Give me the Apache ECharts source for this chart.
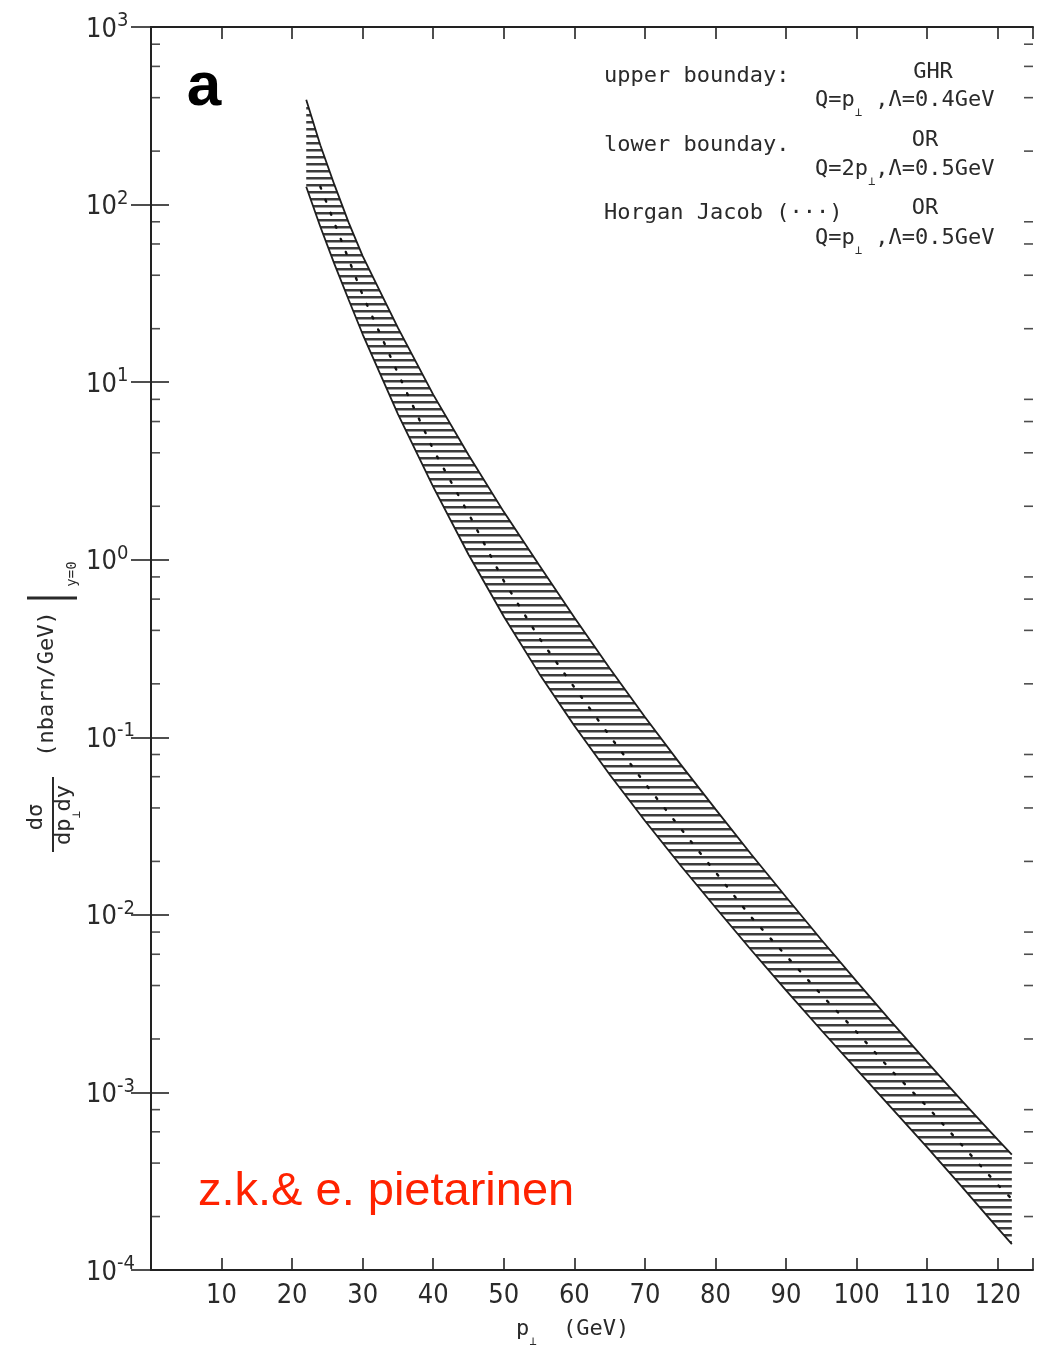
<!DOCTYPE html>
<html>
<head>
<meta charset="utf-8">
<script src="https://cdn.jsdelivr.net/npm/echarts@6/dist/echarts.min.js"></script>
<style>
html,body{margin:0;padding:0;background:#ffffff;}
#c{width:1044px;height:1350px;}
</style>
</head>
<body>
<div id="c"></div>
<script>
// ---------- data ----------
const pT = [22, 24, 26, 28, 30, 35, 40, 45, 50, 55, 60, 65, 70, 75, 80, 85, 90, 95, 100, 105, 110, 115, 120, 122];
const upperBoundary = [389, 216, 129, 79.4, 51.3, 20.2, 8.51, 3.89, 1.86, 0.933, 0.473, 0.245, 0.130, 0.0708, 0.0394, 0.0221, 0.0126, 0.00724, 0.00422, 0.00248, 0.00148, 0.000891, 0.000543, 0.000447];
const lowerBoundary = [126, 75.0, 46.2, 29.2, 18.6, 6.61, 2.57, 1.07, 0.479, 0.229, 0.116, 0.0617, 0.0339, 0.0191, 0.0110, 0.00638, 0.00376, 0.00224, 0.00135, 0.000813, 0.000490, 0.000292, 0.000172, 0.000140];
const pTHorganJacob = [24, 30, 35, 40, 45, 50, 55, 60, 65, 70, 75, 80, 85, 90, 95, 100, 105, 110, 115, 120, 122];
const horganJacob = [126, 30.9, 11.2, 4.17, 1.82, 0.759, 0.363, 0.191, 0.102, 0.0550, 0.0309, 0.0174, 0.00977, 0.00589, 0.00355, 0.00219, 0.00132, 0.000832, 0.000501, 0.000302, 0.000251];

const xTickValues = [10, 20, 30, 40, 50, 60, 70, 80, 90, 100, 110, 120];
const xTickLabels = ['10', '20', '30', '40', '50', '60', '70', '80', '90', '100', '110', '120'];
const yTickExponents = ['-4', '-3', '-2', '-1', '0', '1', '2', '3'];
const yMinorTicks = [2e-4, 4e-4, 6e-4, 8e-4, 2e-3, 4e-3, 6e-3, 8e-3, 2e-2, 4e-2, 6e-2, 8e-2,
  0.2, 0.4, 0.6, 0.8, 2, 4, 6, 8, 20, 40, 60, 80, 200, 400, 600, 800];

const X_MIN = 0, X_MAX = 125, Y_MIN = 1e-4, Y_MAX = 1e3;

// ---------- styling ----------
const INK = '#2a2a2a';
const FONT = "'Liberation Sans Narrow','DejaVu Sans Condensed','DejaVu Sans',sans-serif";
const MONO = "'DejaVu Sans Mono',monospace";

const hatch = document.createElement('canvas');
hatch.width = 8; hatch.height = 7;
const hc = hatch.getContext('2d');
hc.fillStyle = '#3c3c3c';
hc.fillRect(0, 2, 8, 2.5);

const chart = echarts.init(document.getElementById('c'), null, {renderer: 'canvas'});

const axisLineStyle = {color: '#222', width: 2};
const tickStyle = {color: '#222', width: 1.6};

const subRich = {
  b: {fontFamily: MONO, fontSize: 22, color: INK, lineHeight: 30, verticalAlign: 'top'},
  s: {fontFamily: MONO, fontSize: 12, color: INK, lineHeight: 14, verticalAlign: 'bottom'}
};

function legendText(x, y, text, align) {
  return {
    type: 'text', x: x, y: y, silent: true,
    style: {text: text, fontFamily: MONO, fontSize: 22, fill: INK,
      align: align || 'left', verticalAlign: 'middle', rich: subRich}
  };
}

const option = {
  backgroundColor: '#ffffff',
  animation: false,
  grid: {left: 151, right: 11, top: 27, bottom: 80, containLabel: false, outerBoundsMode: 'none'},
  xAxis: [
    {
      type: 'value', position: 'bottom', min: X_MIN, max: X_MAX, interval: 10,
      axisLine: {show: true, lineStyle: axisLineStyle},
      axisTick: {show: true, inside: true, length: 12, lineStyle: tickStyle},
      axisLabel: {
        show: true, margin: 12, fontFamily: FONT, fontSize: 27, color: INK,
        formatter: function (v) { const i = xTickValues.indexOf(v); return i >= 0 ? xTickLabels[i] : ''; }
      },
      splitLine: {show: false}
    },
    {
      type: 'value', position: 'top', min: X_MIN, max: X_MAX, interval: 10,
      axisLine: {show: true, lineStyle: axisLineStyle},
      axisTick: {show: true, inside: true, length: 12, lineStyle: tickStyle},
      axisLabel: {show: false},
      splitLine: {show: false}
    }
  ],
  yAxis: [
    {
      type: 'log', logBase: 10, position: 'left', min: Y_MIN, max: Y_MAX, splitNumber: 7,
      axisLine: {show: true, lineStyle: axisLineStyle},
      axisTick: {show: true, inside: true, length: 18, lineStyle: tickStyle},
      axisLabel: {
        show: true, margin: 65, align: 'left',
        formatter: function (v) {
          const e = Math.round(Math.log10(v));
          return '{b|10}{e|' + yTickExponents[e + 4] + '}';
        },
        rich: {
          b: {fontFamily: FONT, fontSize: 27, color: INK, lineHeight: 32, verticalAlign: 'bottom'},
          e: {fontFamily: FONT, fontSize: 20, color: INK, lineHeight: 14, verticalAlign: 'top'}
        }
      },
      splitLine: {show: false}
    },
    {
      type: 'log', logBase: 10, position: 'right', min: Y_MIN, max: Y_MAX, splitNumber: 7,
      axisLine: {show: true, lineStyle: axisLineStyle},
      axisTick: {show: true, inside: true, length: 20, lineStyle: tickStyle},
      axisLabel: {show: false},
      splitLine: {show: false}
    }
  ],
  series: [
    {
      name: 'band', type: 'custom', coordinateSystem: 'cartesian2d',
      xAxisIndex: 0, yAxisIndex: 0, silent: true, z: 1,
      data: pT.map(function (x, i) { return [x, lowerBoundary[i], upperBoundary[i]]; }),
      encode: {x: 0, y: [1, 2]},
      renderItem: function (params, api) {
        if (params.dataIndex !== 0) return {type: 'group', children: []};
        const top = pT.map(function (x, i) { return api.coord([x, upperBoundary[i]]); });
        const bot = pT.map(function (x, i) { return api.coord([x, lowerBoundary[i]]); }).reverse();
        return {
          type: 'polygon',
          shape: {points: top.concat(bot)},
          style: {fill: {image: hatch, repeat: 'repeat'}, stroke: null}
        };
      }
    },
    {
      name: 'upper boundary', type: 'line', xAxisIndex: 0, yAxisIndex: 0, z: 3,
      data: pT.map(function (x, i) { return [x, upperBoundary[i]]; }),
      showSymbol: false, symbol: 'none', silent: true,
      lineStyle: {color: '#1e1e1e', width: 1.8}
    },
    {
      name: 'lower boundary', type: 'line', xAxisIndex: 0, yAxisIndex: 0, z: 3,
      data: pT.map(function (x, i) { return [x, lowerBoundary[i]]; }),
      showSymbol: false, symbol: 'none', silent: true,
      lineStyle: {color: '#1e1e1e', width: 1.8}
    },
    {
      name: 'Horgan Jacob', type: 'line', xAxisIndex: 0, yAxisIndex: 0, z: 4,
      data: pTHorganJacob.map(function (x, i) { return [x, horganJacob[i]]; }),
      showSymbol: false, symbol: 'none', silent: true,
      lineStyle: {color: '#111', width: 2.4, type: [2, 12], cap: 'round'}
    },
    {
      name: 'minor ticks left', type: 'scatter', xAxisIndex: 0, yAxisIndex: 0, z: 5,
      data: yMinorTicks.map(function (v) { return [X_MIN, v]; }),
      symbol: 'rect', symbolSize: [9, 1.6], symbolOffset: [4.5, 0], clip: false, silent: true,
      itemStyle: {color: '#222'}
    },
    {
      name: 'minor ticks right', type: 'scatter', xAxisIndex: 0, yAxisIndex: 0, z: 5,
      data: yMinorTicks.map(function (v) { return [X_MAX, v]; }),
      symbol: 'rect', symbolSize: [9, 1.6], symbolOffset: [-4.5, 0], clip: false, silent: true,
      itemStyle: {color: '#222'}
    }
  ],
  graphic: [
    {type: 'text', x: 204, y: 88, silent: true,
      style: {text: 'a', fontFamily: "'Liberation Sans',Arial,sans-serif", fontWeight: 'bold', fontSize: 62,
        fill: '#000', align: 'center', verticalAlign: 'middle'}},
    legendText(604, 76, 'upper bounday:'),
    legendText(933, 72, 'GHR', 'center'),
    legendText(815, 104, '{b|Q=p}{s|⊥}{b| ,Λ=0.4GeV}'),
    legendText(604, 145, 'lower bounday.'),
    legendText(925, 140, 'OR', 'center'),
    legendText(815, 173, '{b|Q=2p}{s|⊥}{b|,Λ=0.5GeV}'),
    legendText(604, 213, 'Horgan Jacob (···)'),
    legendText(925, 208, 'OR', 'center'),
    legendText(815, 242, '{b|Q=p}{s|⊥}{b| ,Λ=0.5GeV}'),
    {type: 'text', x: 198, y: 1192, silent: true,
      style: {text: 'z.k.& e. pietarinen', fontFamily: "'Liberation Sans',Arial,sans-serif", fontSize: 47,
        fill: '#ff2200', align: 'left', verticalAlign: 'middle'}},
    {type: 'text', x: 516, y: 1333, silent: true,
      style: {text: '{b|p}{s|⊥}{b|  (GeV)}', fontFamily: MONO, fontSize: 22, fill: INK,
        align: 'left', verticalAlign: 'middle', rich: subRich}},
    {
      type: 'group', x: 50, y: 700, rotation: Math.PI / 2, silent: true,
      children: [
        {type: 'text', x: -117, y: -14,
          style: {text: 'dσ', fontFamily: MONO, fontSize: 22, fill: INK, align: 'center', verticalAlign: 'middle'}},
        {type: 'line', shape: {x1: -152, y1: 3, x2: -77, y2: 3}, style: {stroke: INK, lineWidth: 2}},
        {type: 'text', x: -115, y: 18,
          style: {text: '{b|dp}{s|⊥}{b|dy}', fontFamily: MONO, fontSize: 22, fill: INK,
            align: 'center', verticalAlign: 'middle', rich: subRich}},
        {type: 'text', x: 16, y: -3,
          style: {text: '(nbarn/GeV)', fontFamily: MONO, fontSize: 22, fill: INK, align: 'center', verticalAlign: 'middle'}},
        {type: 'line', shape: {x1: 102, y1: -23, x2: 102, y2: 27}, style: {stroke: INK, lineWidth: 3}},
        {type: 'text', x: 126, y: 22,
          style: {text: 'y=0', fontFamily: MONO, fontSize: 14, fill: INK, align: 'center', verticalAlign: 'middle'}}
      ]
    }
  ]
};

chart.setOption(option);
</script>
</body>
</html>
